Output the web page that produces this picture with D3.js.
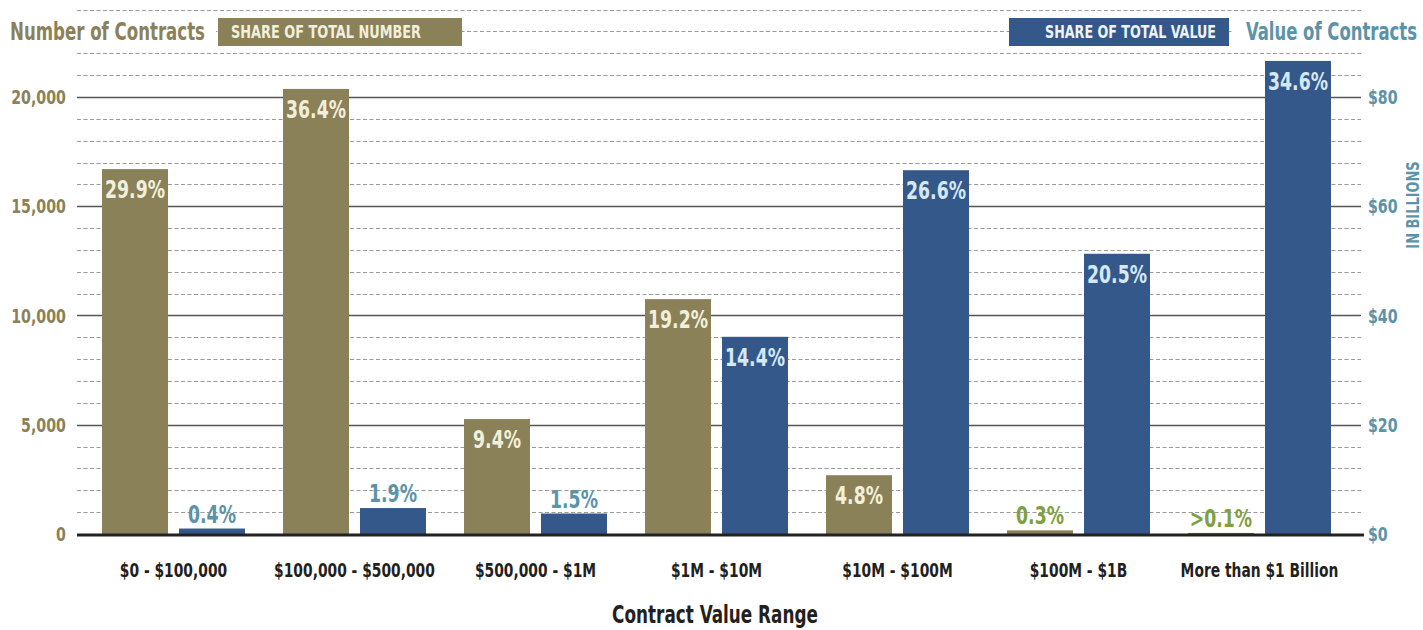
<!DOCTYPE html>
<html>
<head>
<meta charset="utf-8">
<script src="https://cdn.jsdelivr.net/npm/d3@7"></script>
<style>
    body { margin: 0; background: #fff; }
    svg text { font-family: "Liberation Sans Narrow", "Arial Narrow", "DejaVu Sans Condensed", sans-serif; font-weight: bold; }
</style>
</head>
<body>
<div id="chart"></div>
<script>
// data
const categories = ["$0 - $100,000", "$100,000 - $500,000", "$500,000 - $1M", "$1M - $10M", "$10M - $100M", "$100M - $1B", "More than $1 Billion"]
const contractCounts = [16700, 20370, 5260, 10750, 2690, 168, 50]
const contractValues = [1.0, 4.75, 3.75, 36.1, 66.6, 51.3, 86.6]   // billions of dollars
const numberShares = ["29.9%", "36.4%", "9.4%", "19.2%", "4.8%", "0.3%", ">0.1%"]
const valueShares = ["0.4%", "1.9%", "1.5%", "14.4%", "26.6%", "20.5%", "34.6%"]
const leftTicks = [0, 5000, 10000, 15000, 20000]
const rightTicks = [0, 20, 40, 60, 80]

const width = 1423, height = 630
const tan = "#8b8159", blue = "#345889", teal = "#5b93a8", green = "#7fa040"

const svg = d3.select("#chart").append("svg")
    .attr("width", width)
    .attr("height", height)

// squeeze a text horizontally (no condensed bold font installed)
function condense(sel, k) {
    sel.each(function () {
        const w = this.getComputedTextLength()
        d3.select(this).attr("textLength", w * k).attr("lengthAdjust", "spacingAndGlyphs")
    })
}

// scales
const yLeft = d3.scaleLinear().domain([0, 24000]).range([534, 9.6])
const yRight = d3.scaleLinear().domain([0, 96]).range([534, 9.6])
const x0 = d3.scaleBand().domain(categories).range([83, 1350])
const x1 = d3.scaleBand().domain(["n", "v"]).range([0, x0.bandwidth()])
    .paddingInner(0.143).paddingOuter(0.247)

const gridLeft = 77, gridRight = 1361

// grid lines (every 1000 contracts, solid every 5000)
const gridVals = d3.range(1000, 24001, 1000)
svg.append("g").selectAll("line")
    .data(gridVals)
    .join("line")
    .attr("x1", gridLeft).attr("x2", gridRight)
    .attr("y1", d => Math.round(yLeft(d)) + 0.5)
    .attr("y2", d => Math.round(yLeft(d)) + 0.5)
    .attr("stroke", d => d % 5000 === 0 ? "#555" : "#9a9a9a")
    .attr("stroke-width", d => d % 5000 === 0 ? 1.5 : 1)
    .attr("stroke-dasharray", d => d % 5000 === 0 ? null : "4,2.5")

// legend / titles (white backgrounds hide the grid)
svg.append("rect").attr("x", 0).attr("y", 15).attr("width", 216).attr("height", 34).attr("fill", "#fff")
svg.append("text").attr("x", 10).attr("y", 40)
    .attr("font-size", 24).attr("fill", tan)
    .attr("textLength", 195).attr("lengthAdjust", "spacingAndGlyphs")
    .text("Number of Contracts")
svg.append("rect").attr("x", 218).attr("y", 18).attr("width", 244).attr("height", 28).attr("fill", tan)
svg.append("text").attr("x", 231).attr("y", 38)
    .attr("font-size", 17).attr("fill", "#f2f0dc")
    .attr("textLength", 190).attr("lengthAdjust", "spacingAndGlyphs")
    .text("SHARE OF TOTAL NUMBER")

svg.append("rect").attr("x", 1009).attr("y", 18).attr("width", 220).attr("height", 28).attr("fill", blue)
svg.append("text").attr("x", 1216).attr("y", 38).attr("text-anchor", "end")
    .attr("font-size", 17).attr("fill", "#eef3f8")
    .attr("textLength", 171).attr("lengthAdjust", "spacingAndGlyphs")
    .text("SHARE OF TOTAL VALUE")
svg.append("rect").attr("x", 1232).attr("y", 15).attr("width", 191).attr("height", 34).attr("fill", "#fff")
svg.append("text").attr("x", 1246).attr("y", 40)
    .attr("font-size", 24).attr("fill", teal)
    .attr("textLength", 171).attr("lengthAdjust", "spacingAndGlyphs")
    .text("Value of Contracts")

// axes tick labels
svg.append("g").selectAll("text")
    .data(leftTicks)
    .join("text")
    .attr("x", 66).attr("y", d => yLeft(d) + 7)
    .attr("text-anchor", "end")
    .attr("font-size", 19).attr("fill", tan)
    .text(d => d3.format(",")(d))
    .call(condense, 0.83)

svg.append("g").selectAll("text")
    .data(rightTicks)
    .join("text")
    .attr("x", 1368).attr("y", d => yRight(d) + 7)
    .attr("font-size", 19).attr("fill", teal)
    .text(d => "$" + d)
    .call(condense, 0.83)

svg.append("text")
    .attr("transform", "translate(1419,205) rotate(-90)")
    .attr("text-anchor", "middle")
    .attr("font-size", 18).attr("fill", teal)
    .text("IN BILLIONS")
    .call(condense, 0.8)

// bars
const groups = svg.append("g").selectAll("g")
    .data(categories.map((c, i) => ({ c, i })))
    .join("g")
    .attr("transform", d => `translate(${x0(d.c)},0)`)

groups.append("rect")
    .attr("x", x1("n")).attr("width", x1.bandwidth())
    .attr("y", d => yLeft(contractCounts[d.i]))
    .attr("height", d => yLeft(0) - yLeft(contractCounts[d.i]))
    .attr("fill", d => d.i === 6 ? "#6b7a3a" : tan)

groups.append("rect")
    .attr("x", x1("v")).attr("width", x1.bandwidth())
    .attr("y", d => yRight(contractValues[d.i]))
    .attr("height", d => yRight(0) - yRight(contractValues[d.i]))
    .attr("fill", blue)

// value labels: inside tall bars, above short ones
groups.append("text")
    .attr("x", x1("n") + x1.bandwidth() / 2)
    .attr("y", d => {
        const top = yLeft(contractCounts[d.i])
        return yLeft(0) - top > 40 ? top + 29 : top - 6
    })
    .attr("text-anchor", "middle").attr("font-size", 24)
    .attr("fill", d => yLeft(0) - yLeft(contractCounts[d.i]) > 40 ? "#f2f0dc" : green)
    .text(d => numberShares[d.i])
    .call(condense, 0.8)

groups.append("text")
    .attr("x", x1("v") + x1.bandwidth() / 2)
    .attr("y", d => {
        const top = yRight(contractValues[d.i])
        return yRight(0) - top > 40 ? top + 29 : top - 6
    })
    .attr("text-anchor", "middle").attr("font-size", 24)
    .attr("fill", d => yRight(0) - yRight(contractValues[d.i]) > 40 ? "#d6e8f4" : teal)
    .text(d => valueShares[d.i])
    .call(condense, 0.8)

// baseline
svg.append("line")
    .attr("x1", gridLeft).attr("x2", 1364)
    .attr("y1", yLeft(0) + 1).attr("y2", yLeft(0) + 1)
    .attr("stroke", "#222").attr("stroke-width", 3)

// category labels
svg.append("g").selectAll("text")
    .data(categories)
    .join("text")
    .attr("x", d => x0(d) + x0.bandwidth() / 2)
    .attr("y", 577)
    .attr("text-anchor", "middle")
    .attr("font-size", 19).attr("fill", "#231f20")
    .text(d => d)
    .call(condense, 0.81)

svg.append("text")
    .attr("x", 715).attr("y", 623)
    .attr("text-anchor", "middle")
    .attr("font-size", 24).attr("fill", "#231f20")
    .text("Contract Value Range")
    .call(condense, 0.78)
</script>
</body>
</html>
